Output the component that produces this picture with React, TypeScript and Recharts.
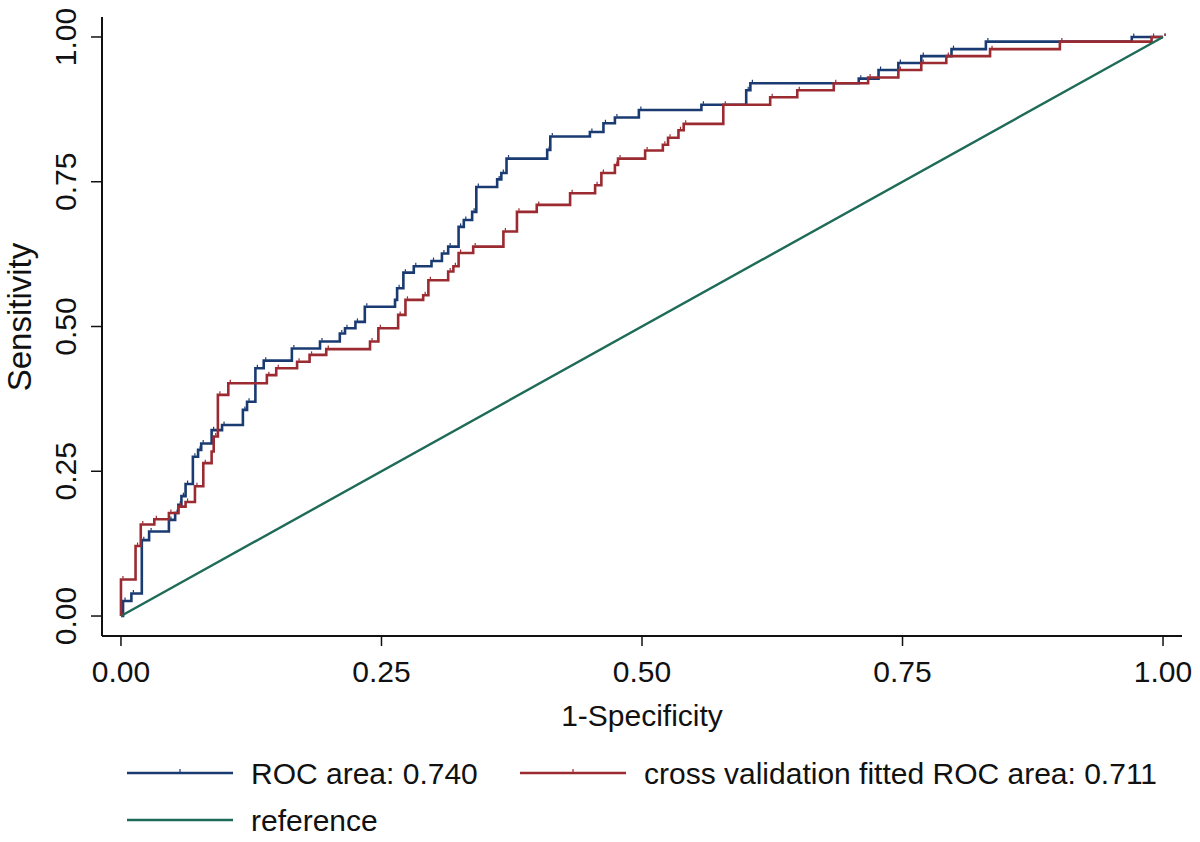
import React from "react";
import { LineChart, Line, XAxis, YAxis, Label } from "recharts";

// ROC curves (1-Specificity vs Sensitivity)
const rocFpr = [0, 0.002, 0.01, 0.02, 0.027, 0.046, 0.052, 0.055, 0.058, 0.062, 0.069, 0.074, 0.077, 0.087, 0.097, 0.117, 0.121, 0.129, 0.137, 0.164, 0.191, 0.21, 0.215, 0.225, 0.234, 0.263, 0.265, 0.271, 0.281, 0.298, 0.308, 0.314, 0.324, 0.329, 0.337, 0.341, 0.361, 0.365, 0.37, 0.409, 0.412, 0.45, 0.463, 0.474, 0.497, 0.557, 0.6, 0.604, 0.708, 0.727, 0.746, 0.768, 0.797, 0.83, 0.97, 1];
const rocTpr = [0, 0.026, 0.039, 0.131, 0.146, 0.166, 0.178, 0.192, 0.207, 0.228, 0.275, 0.287, 0.298, 0.321, 0.33, 0.356, 0.37, 0.428, 0.441, 0.462, 0.474, 0.488, 0.497, 0.508, 0.534, 0.546, 0.566, 0.593, 0.604, 0.613, 0.626, 0.638, 0.672, 0.684, 0.698, 0.741, 0.754, 0.765, 0.79, 0.805, 0.828, 0.836, 0.851, 0.861, 0.874, 0.883, 0.908, 0.92, 0.928, 0.943, 0.955, 0.967, 0.979, 0.992, 1, 1];

const cvFpr = [0, 0, 0.014, 0.019, 0.032, 0.046, 0.055, 0.062, 0.071, 0.079, 0.087, 0.089, 0.093, 0.103, 0.14, 0.149, 0.169, 0.181, 0.197, 0.239, 0.247, 0.266, 0.273, 0.29, 0.295, 0.314, 0.319, 0.324, 0.338, 0.367, 0.38, 0.399, 0.431, 0.455, 0.461, 0.474, 0.477, 0.503, 0.52, 0.525, 0.535, 0.54, 0.578, 0.623, 0.649, 0.684, 0.717, 0.746, 0.768, 0.792, 0.834, 0.901, 0.989, 1];
const cvTpr = [0, 0.063, 0.121, 0.158, 0.167, 0.178, 0.189, 0.197, 0.224, 0.264, 0.284, 0.31, 0.382, 0.402, 0.416, 0.428, 0.439, 0.451, 0.461, 0.474, 0.497, 0.52, 0.546, 0.554, 0.58, 0.595, 0.604, 0.627, 0.638, 0.664, 0.698, 0.71, 0.73, 0.744, 0.765, 0.779, 0.79, 0.804, 0.814, 0.826, 0.839, 0.85, 0.883, 0.896, 0.908, 0.92, 0.93, 0.943, 0.955, 0.967, 0.979, 0.992, 1, 1];

const refFpr = [0, 1];
const refTpr = [0, 1];

const axisTicks = [0, 0.25, 0.5, 0.75, 1];

const seriesNames = ["ROC area: 0.740", "cross validation fitted ROC area: 0.711", "reference"];

const BLUE = "#1a3b72";
const RED = "#9b2a31";
const GREEN = "#1e6b58";
const FONT = "'Liberation Sans', Arial, sans-serif";

const toRows = (xs: number[], ys: number[]) => xs.map((x, i) => ({ x, y: ys[i] }));
const rocData = toRows(rocFpr, rocTpr);
const cvData = toRows(cvFpr, cvTpr);
const refData = toRows(refFpr, refTpr);

// small tick marker like stata's roc points
const tickDot = (color: string) => (p: any) => (
  <path key={p.index} d={`M${p.cx + 2},${p.cy - 1}V${p.cy - 3.5}`} stroke={color} strokeWidth={1.2} fill="none" />
);

const XTick = (p: any) => (
  <text x={p.x} y={p.y + 36} textAnchor="middle" fontFamily={FONT} fontSize={30} fill="#111">
    {p.payload.value.toFixed(2)}
  </text>
);

const YTick = (p: any) => (
  <text
    x={p.x - 15}
    y={p.y}
    textAnchor="middle"
    transform={`rotate(-90, ${p.x - 15}, ${p.y})`}
    fontFamily={FONT}
    fontSize={30}
    fill="#111"
  >
    {p.payload.value.toFixed(2)}
  </text>
);

function LegendItem({ x, y, color, text, marker }: { x: number; y: number; color: string; text: string; marker?: boolean }) {
  return (
    <g>
      <line x1={x} y1={y} x2={x + 106} y2={y} stroke={color} strokeWidth={2.5} />
      {marker && <line x1={x + 53} y1={y - 1} x2={x + 53} y2={y - 4} stroke={color} strokeWidth={1.2} />}
      <text x={x + 124} y={y + 11} fontFamily={FONT} fontSize={30} fill="#111">
        {text}
      </text>
    </g>
  );
}

export default function App() {
  return (
    <div style={{ position: "absolute", left: 0, top: 0, width: 1200, height: 842, background: "#fff" }}>
      <LineChart width={1200} height={842} margin={{ top: 17, right: 18, left: 0, bottom: 146 }}>
        <XAxis
          type="number"
          dataKey="x"
          domain={[-0.0182, 1.0182]}
          ticks={axisTicks}
          allowDataOverflow
          height={60}
          tickSize={10}
          tickMargin={0}
          tick={XTick}
          axisLine={{ stroke: "#111", strokeWidth: 2 }}
          tickLine={{ stroke: "#111", strokeWidth: 1.5 }}
        >
          <Label
            content={({ viewBox }: any) => (
              <text x={viewBox.x + viewBox.width / 2} y={viewBox.y + 90} textAnchor="middle" fontFamily={FONT} fontSize={30} fill="#111">
                1-Specificity
              </text>
            )}
          />
        </XAxis>
        <YAxis
          type="number"
          dataKey="y"
          domain={[-0.0345, 1.0345]}
          ticks={axisTicks}
          allowDataOverflow
          width={102}
          tickSize={11}
          tickMargin={0}
          tick={YTick}
          axisLine={{ stroke: "#111", strokeWidth: 2 }}
          tickLine={{ stroke: "#111", strokeWidth: 1.5 }}
        >
          <Label
            content={() => (
              <text x={31} y={317} textAnchor="middle" transform="rotate(-90, 31, 317)" fontFamily={FONT} fontSize={33} fill="#111">
                Sensitivity
              </text>
            )}
          />
        </YAxis>
        <Line
          data={rocData}
          dataKey="y"
          type="stepAfter"
          stroke={BLUE}
          strokeWidth={2.6}
          dot={tickDot(BLUE)}
          activeDot={false}
          isAnimationActive={false}
        />
        <Line
          data={cvData}
          dataKey="y"
          type="stepAfter"
          stroke={RED}
          strokeWidth={2.6}
          dot={tickDot(RED)}
          activeDot={false}
          isAnimationActive={false}
        />
        <Line
          data={refData}
          dataKey="y"
          type="linear"
          stroke={GREEN}
          strokeWidth={2.4}
          dot={false}
          activeDot={false}
          isAnimationActive={false}
        />
      </LineChart>
      <svg width={1200} height={842} style={{ position: "absolute", left: 0, top: 0, pointerEvents: "none" }}>
        <LegendItem x={127} y={773} color={BLUE} text={seriesNames[0]} marker />
        <LegendItem x={520} y={773} color={RED} text={seriesNames[1]} marker />
        <LegendItem x={127} y={820} color={GREEN} text={seriesNames[2]} />
      </svg>
    </div>
  );
}
